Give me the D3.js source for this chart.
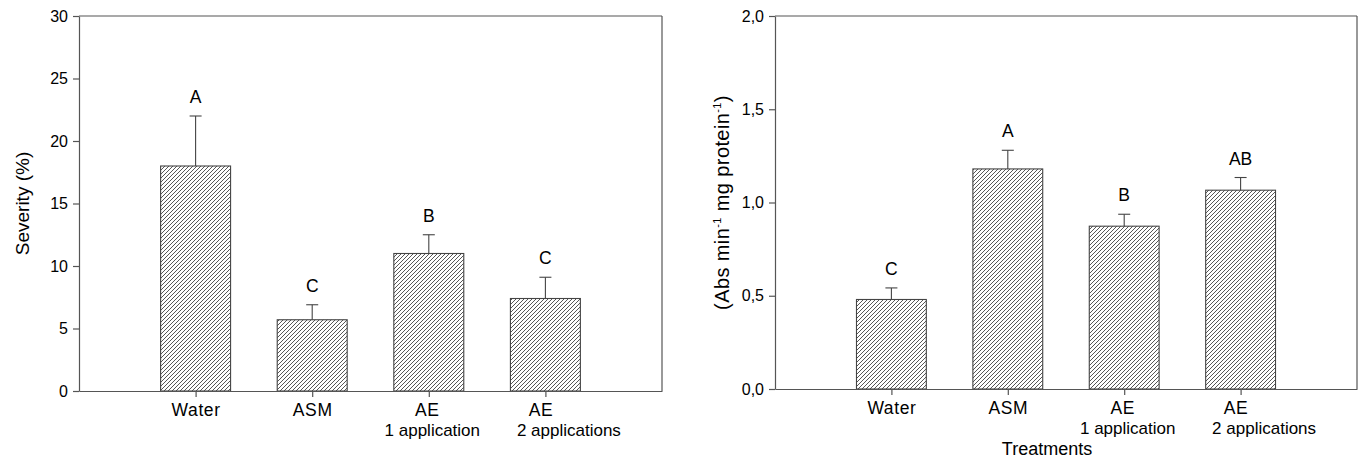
<!DOCTYPE html>
<html><head>
<meta charset="utf-8">
<script src="https://d3js.org/d3.v7.min.js"></script>
<style>
  body { margin: 0; background: #fff; }
  svg text { font-family: "Liberation Sans", Arial, sans-serif; fill: #000; }
  .axis path, .axis line, .frame { stroke: #555; stroke-width: 1.2; }
  .axis text { font-size: 16px; }
  .axis text.xlab1 { font-size: 17.5px; letter-spacing: 0.6px; }
  .axis text.xlab2 { font-size: 17px; }
</style>
</head>
<body>
<svg id="chart" width="1358" height="460"></svg>
<script>
// treatments (two lines per tick label)
const catLine1 = ["Water", "ASM", "AE", "AE"];
const catLine2 = ["", "", "1 application", "2 applications"];

// left panel: severity (%)
const severity = [18.0, 5.7, 11.0, 7.4];
const severityErr = [4.0, 1.2, 1.5, 1.7];
const severityLetters = ["A", "C", "B", "C"];
const severityTicks = [0, 5, 10, 15, 20, 25, 30];

// right panel: enzyme activity
const activity = [0.48, 1.18, 0.873, 1.066];
const activityErr = [0.062, 0.10, 0.064, 0.068];
const activityLetters = ["C", "A", "B", "AB"];
const activityTicks = [0, 0.5, 1.0, 1.5, 2.0];

const svg = d3.select("#chart");

// hatch pattern  ////
const defs = svg.append("defs");
const pat = defs.append("pattern")
  .attr("id", "hatch")
  .attr("patternUnits", "userSpaceOnUse")
  .attr("width", 4).attr("height", 4);
pat.append("rect").attr("width", 4).attr("height", 4).attr("fill", "#fff");
pat.append("path")
  .attr("d", "M-1,1 l2,-2 M0,4 l4,-4 M3,5 l2,-2")
  .attr("stroke", "#444").attr("stroke-width", 0.9);

// the original labels are not quite centred under their ticks
const line1Shift = [0, 0, -2, -5];
const line2Shift = [0, 0, 3, 23];

function panel(opts) {
  const g = svg.append("g").attr("transform", "translate(" + opts.left + "," + opts.top + ")");
  const w = opts.width, h = opts.height;

  const x = d3.scaleLinear().domain([0, 5]).range([0, w]);
  const y = d3.scaleLinear().domain(opts.domain).range([h, 0]);
  const barW = x(1) - x(0.4);

  // frame top + right
  g.append("line").attr("class", "frame").attr("x1", 0).attr("x2", w).attr("y1", 0).attr("y2", 0);
  g.append("line").attr("class", "frame").attr("x1", w).attr("x2", w).attr("y1", 0).attr("y2", h);

  // y axis
  g.append("g").attr("class", "axis")
    .call(d3.axisLeft(y).tickValues(opts.ticks).tickSize(6).tickSizeOuter(0)
      .tickPadding(5).tickFormat(opts.fmt));

  // bars
  const idx = d3.range(opts.values.length);
  g.selectAll("rect.bar").data(idx).join("rect")
    .attr("class", "bar")
    .attr("x", i => x(i + 1) - barW / 2)
    .attr("y", i => y(opts.values[i]))
    .attr("width", barW)
    .attr("height", i => h - y(opts.values[i]))
    .attr("fill", "url(#hatch)")
    .attr("stroke", "#444").attr("stroke-width", 1.1);

  // error bars (upper only)
  g.selectAll("line.err").data(idx).join("line")
    .attr("class", "err")
    .attr("x1", i => x(i + 1)).attr("x2", i => x(i + 1))
    .attr("y1", i => y(opts.values[i]))
    .attr("y2", i => y(opts.values[i] + opts.errs[i]))
    .attr("stroke", "#444").attr("stroke-width", 1.1);
  g.selectAll("line.cap").data(idx).join("line")
    .attr("class", "cap")
    .attr("x1", i => x(i + 1) - 6).attr("x2", i => x(i + 1) + 6)
    .attr("y1", i => y(opts.values[i] + opts.errs[i]))
    .attr("y2", i => y(opts.values[i] + opts.errs[i]))
    .attr("stroke", "#444").attr("stroke-width", 1.1);

  // significance letters
  g.selectAll("text.letter").data(idx).join("text")
    .attr("class", "letter")
    .attr("x", i => x(i + 1))
    .attr("y", i => y(opts.values[i] + opts.errs[i]) - 13)
    .attr("text-anchor", "middle")
    .style("font-size", "17.5px")
    .text(i => opts.letters[i]);

  // x axis
  const xa = g.append("g").attr("class", "axis")
    .attr("transform", "translate(0," + h + ")")
    .call(d3.axisBottom(x).tickValues([1, 2, 3, 4]).tickSize(6).tickSizeOuter(0).tickFormat(""));
  xa.selectAll(".tick").each(function (d) {
    const t = d3.select(this);
    t.append("text").attr("class", "xlab1").attr("y", 25).attr("x", line1Shift[d - 1])
      .attr("text-anchor", "middle").text(catLine1[d - 1]);
    t.append("text").attr("class", "xlab2").attr("y", 45).attr("x", line2Shift[d - 1])
      .attr("text-anchor", "middle").text(catLine2[d - 1]);
  });

  // y title
  const yt = g.append("text")
    .attr("transform", "translate(" + opts.ytX + "," + (h / 2) + ") rotate(-90)")
    .attr("text-anchor", "middle")
    .style("font-size", opts.ytSize);
  opts.ytitle(yt);
  return g;
}

panel({
  left: 79, top: 16, width: 583, height: 375,
  domain: [0, 30], ticks: severityTicks, fmt: d3.format("d"),
  values: severity, errs: severityErr, letters: severityLetters,
  ytX: -50, ytSize: "19px",
  ytitle: t => t.text("Severity (%)")
});

const right = panel({
  left: 775, top: 16, width: 582, height: 373,
  domain: [0, 2], ticks: activityTicks, fmt: d => d3.format(".1f")(d).replace(".", ","),
  values: activity, errs: activityErr, letters: activityLetters,
  ytX: -46, ytSize: "20px",
  ytitle: t => {
    t.style("letter-spacing", "0.4px");
    t.append("tspan").text("(Abs min");
    t.append("tspan").attr("dy", -8).style("font-size", "11px").text("-1");
    t.append("tspan").attr("dy", 8).text(" mg protein");
    t.append("tspan").attr("dy", -8).style("font-size", "11px").text("-1");
    t.append("tspan").attr("dy", 8).text(")");
  }
});

right.append("text")
  .attr("x", 272).attr("y", 439)
  .attr("text-anchor", "middle")
  .style("font-size", "18px")
  .text("Treatments");
</script>
</body>
</html>
